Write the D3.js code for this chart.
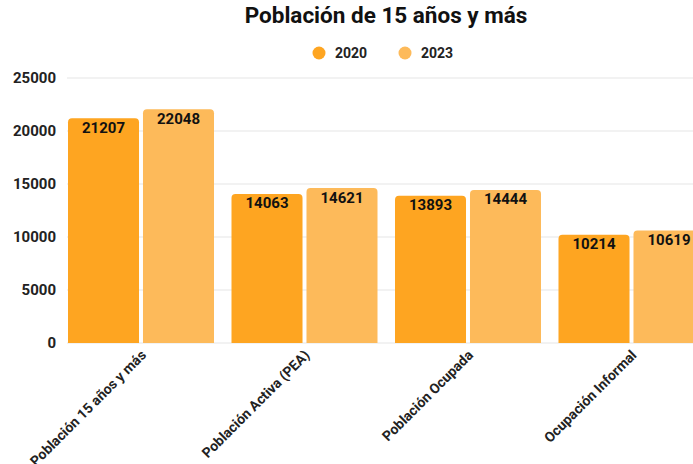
<!DOCTYPE html>
<html>
<head>
<meta charset="utf-8">
<script src="https://cdn.jsdelivr.net/npm/d3@7"></script>
<style>
  body { margin: 0; background: #fff; font-family: Roboto, "Noto Sans", sans-serif; }
</style>
</head>
<body>
<svg id="chart" width="693" height="464"></svg>
<script>
// data
var categories = ["Población 15 años y más", "Población Activa (PEA)", "Población Ocupada", "Ocupación Informal"];
var years = ["2020", "2023"];
var values2020 = [21207, 14063, 13893, 10214];
var values2023 = [22048, 14621, 14444, 10619];
var yTicks = [0, 5000, 10000, 15000, 20000, 25000];

var colors = { "2020": "#fea521", "2023": "#fdba5a" };

var svg = d3.select("#chart");
var plotTop = 78, plotBottom = 343, plotLeft = 68;

var rows = categories.map(function (c, i) {
  return { cat: c, vals: [ { year: "2020", v: values2020[i] }, { year: "2023", v: values2023[i] } ] };
});

var x0 = d3.scaleBand().domain(categories).range([plotLeft, 704.5]).paddingInner(0.107).paddingOuter(0);
var x1 = d3.scaleBand().domain(years).range([0, x0.bandwidth()]).paddingInner(0.053);
var y = d3.scaleLinear().domain([0, 25000]).range([plotBottom, plotTop]);

// title
svg.append("text")
  .attr("x", 386).attr("y", 23)
  .attr("text-anchor", "middle")
  .style("font-size", "22.5px").style("font-weight", "bold").style("fill", "#111")
  .text("Población de 15 años y más");

// legend
var legendX = [319, 405];
years.forEach(function (yr, i) {
  var g = svg.append("g").attr("transform", "translate(" + legendX[i] + ",53)");
  g.append("circle").attr("r", 6.5).attr("fill", colors[yr]);
  g.append("text").attr("x", 16).attr("y", 5)
    .style("font-size", "14px").style("font-weight", "bold").style("fill", "#222")
    .text(yr);
});

// grid + y labels
svg.append("g").selectAll("line").data(yTicks).join("line")
  .attr("x1", 67).attr("x2", 693)
  .attr("y1", function (d) { return y(d); }).attr("y2", function (d) { return y(d); })
  .attr("stroke", "#e5e5e5").attr("stroke-width", 1);

svg.append("g").selectAll("text").data(yTicks).join("text")
  .attr("x", 56).attr("y", function (d) { return y(d) + 5; })
  .attr("text-anchor", "end")
  .style("font-size", "15px").style("font-weight", "bold").style("fill", "#222")
  .text(function (d) { return d; });

// bars with rounded tops
function barPath(x, yTop, w, h, r) {
  return "M" + x + "," + (yTop + h) +
    "V" + (yTop + r) +
    "Q" + x + "," + yTop + " " + (x + r) + "," + yTop +
    "H" + (x + w - r) +
    "Q" + (x + w) + "," + yTop + " " + (x + w) + "," + (yTop + r) +
    "V" + (yTop + h) + "Z";
}

var groups = svg.append("g").selectAll("g").data(rows).join("g")
  .attr("transform", function (d) { return "translate(" + x0(d.cat) + ",0)"; });

groups.selectAll("path").data(function (d) { return d.vals; }).join("path")
  .attr("d", function (d) {
    return barPath(x1(d.year), y(d.v), x1.bandwidth(), plotBottom - y(d.v), 4);
  })
  .attr("fill", function (d) { return colors[d.year]; });

groups.selectAll("text").data(function (d) { return d.vals; }).join("text")
  .attr("x", function (d) { return x1(d.year) + x1.bandwidth() / 2; })
  .attr("y", function (d) { return y(d.v) + 14.5; })
  .attr("text-anchor", "middle")
  .style("font-size", "15px").style("font-weight", "bold").style("fill", "#111")
  .text(function (d) { return d.v; });

// x labels, rotated
svg.append("g").selectAll("text").data(categories).join("text")
  .attr("transform", function (d) {
    return "translate(" + (x0(d) + x0.bandwidth() / 2 + 6) + ",356) rotate(-45)";
  })
  .attr("text-anchor", "end")
  .style("font-size", "14px").style("font-weight", "bold").style("fill", "#222")
  .text(function (d) { return d; });
</script>
</body>
</html>
